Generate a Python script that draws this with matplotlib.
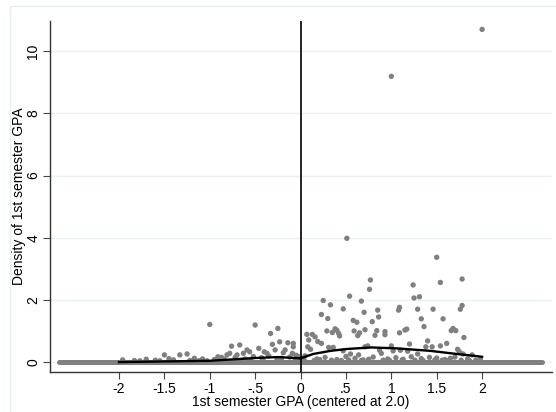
import numpy as np
import matplotlib.pyplot as plt
from matplotlib.patches import Rectangle

plt.rcParams['font.family'] = ['Liberation Sans', 'DejaVu Sans']

# bins with positive density
gpa = [2.00, 1.00, 0.51, 1.50, 0.77, 0.76, 1.78, 1.54, 1.24, 1.31, 1.25, 0.25,
       0.54, 0.67, 0.33, 0.47, 0.85, 0.70, 1.09, 1.08, 1.29, 1.46, 1.78, 1.76,
       0.23, 0.86, 0.30, 0.58, 0.62, 0.79, 1.33, 1.57, 1.36, 1.17, 1.15, 1.09,
       1.68, 1.71, 1.66, 1.80, 0.38, 0.40, 0.35, 0.42, 0.43, 0.29, 0.59, 0.65,
       0.63, 0.71, 0.82, 0.84, 0.93, 0.93, 0.07, 0.09, 0.13, 0.16, 0.19, 0.23,
       0.08, 0.11, 0.31, 0.36, 0.47, 0.55, 0.64, 0.71, 0.74, 0.87, 0.89, 1.00,
       1.02, 1.10, 1.18, 1.20, 1.29, 1.38, 1.40, 1.45, 1.54, 1.61, 1.73, 1.75,
       1.79, 1.89,
       -1.00, -0.50, -0.33, -0.25, -0.76, -0.67, -0.31, -0.23, -0.14, -0.08,
       -0.08, -0.46, -0.40, -0.37, -0.59, -0.56, -0.63, -0.28, -0.17, -0.19,
       -0.09, -1.50, -1.33, -1.25, -0.91, -0.81, -0.78, -0.70, -0.87, -0.03,
       -0.02, -0.05, -0.12, -0.21, -0.35, -0.43, -0.52, -0.61, -0.72, -0.84,
       -0.95, -1.08, -1.17, -1.40, -1.60, -1.70, -1.83, -1.96, -1.12, -1.45,
       0.02, 0.05, 0.18, 0.27, 0.40, 0.50, 0.60, 0.69, 0.80, 0.96, 1.05, 1.13,
       1.22, 1.33, 1.42, 1.50, 1.59, 1.65, 1.70, 1.84, 1.93, 1.98,
       0.04, 0.15, 0.21, 0.34, 0.45, 0.53, 0.67, 0.75, 0.91, 0.98, 1.12, 1.26,
       1.35, 1.48, 1.56, 1.63, 1.77, 1.86, -0.06, -0.26, -0.41, -0.55, -0.66,
       -0.89, -1.03, -1.22, -1.55, -1.77]
density = [10.70, 9.19, 3.98, 3.37, 2.64, 2.34, 2.67, 2.56, 2.48, 2.10, 2.06, 1.98,
           2.12, 1.96, 1.84, 1.71, 1.67, 1.60, 1.76, 1.67, 1.70, 1.70, 1.82, 1.70,
           1.53, 1.45, 1.40, 1.34, 1.28, 1.30, 1.39, 1.39, 1.14, 1.06, 1.03, 0.94,
           1.08, 1.01, 1.01, 0.79, 1.07, 1.02, 0.95, 0.92, 0.84, 1.00, 1.00, 0.94,
           0.85, 1.04, 0.86, 1.01, 0.98, 0.88, 0.89, 0.71, 0.89, 0.81, 0.66, 0.60,
           0.49, 0.41, 0.47, 0.47, 0.36, 0.26, 0.23, 0.49, 0.52, 0.38, 0.28, 0.52,
           0.36, 0.38, 0.35, 0.58, 0.26, 0.49, 0.68, 0.49, 0.52, 0.60, 0.41, 0.33,
           0.26, 0.23,
           1.21, 1.19, 0.92, 1.08, 0.51, 0.55, 0.57, 0.65, 0.62, 0.60,
           0.49, 0.44, 0.33, 0.28, 0.39, 0.33, 0.28, 0.39, 0.39, 0.30,
           0.28, 0.23, 0.23, 0.26, 0.17, 0.23, 0.28, 0.23, 0.15, 0.18,
           0.10, 0.22, 0.16, 0.12, 0.20, 0.14, 0.18, 0.10, 0.15, 0.09,
           0.08, 0.10, 0.12, 0.07, 0.06, 0.09, 0.05, 0.07, 0.04, 0.11,
           0.12, 0.20, 0.10, 0.15, 0.08, 0.18, 0.12, 0.07, 0.16, 0.10, 0.14, 0.09,
           0.17, 0.11, 0.15, 0.13, 0.08, 0.12, 0.16, 0.10, 0.06, 0.09,
           0.06, 0.05, 0.08, 0.06, 0.05, 0.07, 0.05, 0.09, 0.06, 0.05, 0.07, 0.06,
           0.05, 0.07, 0.06, 0.05, 0.06, 0.05, 0.06, 0.07, 0.05, 0.06, 0.05,
           0.06, 0.04, 0.05, 0.04, 0.04]

# range of bins with zero density
zero_range = [-2.66, 2.66]

# local fits on each side of the cutoff
fit_left_x = [-2.0, -1.5, -1.0, -0.5, -0.25, 0.0]
fit_left_y = [0.0, 0.02, 0.04, 0.13, 0.16, 0.12]
fit_right_x = [0.0, 0.14, 0.33, 0.51, 0.78, 1.06, 1.43, 1.72, 2.0]
fit_right_y = [0.12, 0.26, 0.36, 0.42, 0.47, 0.44, 0.36, 0.26, 0.17]

xticks = [-2, -1.5, -1, -0.5, 0, 0.5, 1, 1.5, 2]
xticklabels = ['-2', '-1.5', '-1', '-.5', '0', '.5', '1', '1.5', '2']
yticks = [0, 2, 4, 6, 8, 10]

dot = '#808080'
fig = plt.figure(figsize=(5.56, 4.12), dpi=100)
fig.patches.append(Rectangle((10 / 556, -0.01), 1.0, 1 - 6 / 412 + 0.01, transform=fig.transFigure,
                             fill=False, edgecolor='#e6eef0', lw=1.0))
ax = fig.add_axes([50 / 556, 1 - 372 / 412, 502 / 556, 351 / 412])

for t in yticks:
    ax.axhline(t, color='#eaf1f3', lw=1.0, zorder=0)

ax.plot(zero_range, [0, 0], color=dot, lw=3.6, solid_capstyle='round', zorder=2)
ax.scatter(gpa, density, s=15, color=dot, edgecolors='none', zorder=2)
ax.plot(fit_left_x, fit_left_y, color='black', lw=1.7, zorder=3)
ax.plot(fit_right_x, fit_right_y, color='black', lw=1.7, zorder=3)
ax.axvline(0, color='black', lw=1.2, zorder=4)

ax.set_xlim(-2.76, 2.77)
ax.set_ylim(-0.32, 10.97)
ax.set_xticks(xticks)
ax.set_xticklabels(xticklabels)
ax.set_yticks(yticks)
ax.set_yticklabels([str(t) for t in yticks], rotation=90, va='center')
ax.tick_params(labelsize=10, length=5, width=0.8, color='#444444', pad=2)
ax.spines['top'].set_visible(False)
ax.spines['right'].set_visible(False)
for s in ['left', 'bottom']:
    ax.spines[s].set_color('#333333')
    ax.spines[s].set_linewidth(1.0)

ax.set_xlabel('1st semester GPA (centered at 2.0)', fontsize=10)
ax.set_ylabel('Density of 1st semester GPA', fontsize=10)
ax.xaxis.set_label_coords(0.5, -23 / 351)
ax.yaxis.set_label_coords(-24 / 502, 0.5)

fig.savefig('out.png', dpi=100)
